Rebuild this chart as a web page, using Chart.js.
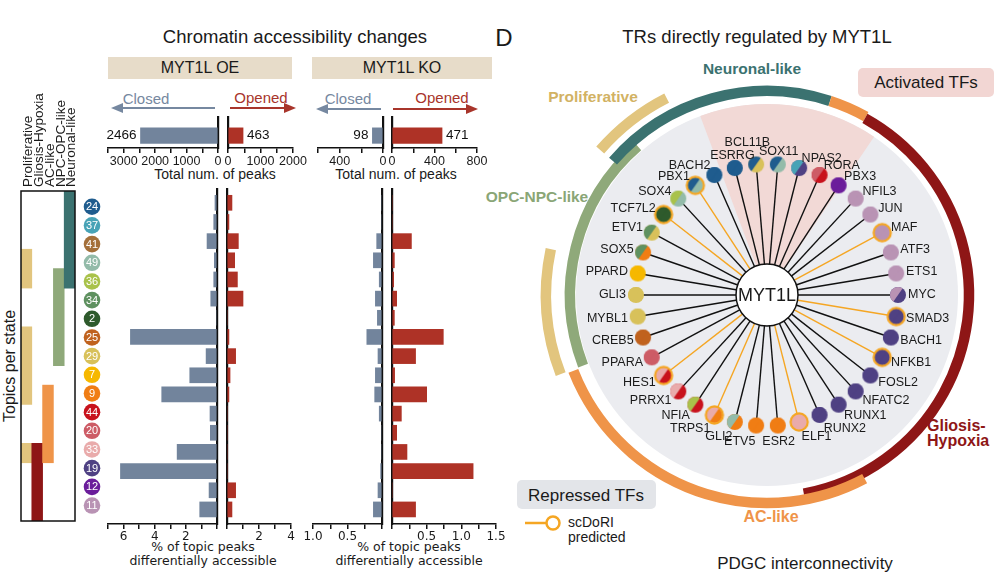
<!DOCTYPE html>
<html>
<head>
<meta charset="utf-8">
<title>MYT1L chromatin accessibility</title>
<script src="https://cdn.jsdelivr.net/npm/chart.js@4.4.1/dist/chart.umd.min.js"></script>
<style>
  body { margin:0; width:1000px; height:576px; position:relative; overflow:hidden; background:#fff;
         font-family:"Liberation Sans", Arial, sans-serif; color:#1a1a1a; }
  canvas { position:absolute; }
  .t { position:absolute; white-space:nowrap; transform:translate(-50%,-50%); line-height:1; }
  .l { position:absolute; white-space:nowrap; transform:translateY(-50%); line-height:1; }
  .rot { position:absolute; white-space:nowrap; transform-origin:0 0; transform:rotate(-90deg); }
  .box { position:absolute; }
  .dv { font-family:"DejaVu Sans", sans-serif; font-size:12.5px; }
  .st { font-weight:bold; font-size:15.5px; }
</style>
</head>
<body>

<!-- left panel headers -->
<div class="t" style="left:295px;top:37px;font-size:18.5px">Chromatin accessibility changes</div>
<div class="box" style="left:108px;top:57px;width:184px;height:22px;background:#e7dcc9"></div>
<div class="box" style="left:312px;top:57px;width:180px;height:22px;background:#e7dcc9"></div>
<div class="t" style="left:200px;top:68px;font-size:16px">MYT1L OE</div>
<div class="t" style="left:402px;top:68px;font-size:16px">MYT1L KO</div>
<div class="t" style="left:146px;top:98px;font-size:15px;color:#7688a0">Closed</div>
<div class="t" style="left:261px;top:97px;font-size:15px;color:#a8352b">Opened</div>
<div class="t" style="left:348px;top:98px;font-size:15px;color:#7688a0">Closed</div>
<div class="t" style="left:442px;top:97px;font-size:15px;color:#a8352b">Opened</div>
<svg width="1000" height="576" style="position:absolute;left:0;top:0">
  <g stroke-width="2">
    <line x1="215" y1="108" x2="120" y2="108" stroke="#7688a0"/>
    <polygon points="111,108 123,103 123,113" fill="#7688a0"/>
    <line x1="230" y1="108" x2="287" y2="108" stroke="#a8352b"/>
    <polygon points="296,108 284,103 284,113" fill="#a8352b"/>
    <line x1="381" y1="109" x2="325" y2="109" stroke="#7688a0"/>
    <polygon points="316,109 328,104 328,114" fill="#7688a0"/>
    <line x1="393" y1="109" x2="469" y2="109" stroke="#a8352b"/>
    <polygon points="478,109 466,104 466,114" fill="#a8352b"/>
  </g>
</svg>
<div class="t" style="left:215px;top:174px;font-size:14px">Total num. of peaks</div>
<div class="t" style="left:396px;top:174px;font-size:14px">Total num. of peaks</div>
<div class="t dv" style="left:203px;top:547px">% of topic peaks</div>
<div class="t dv" style="left:203px;top:561px">differentially accessible</div>
<div class="t dv" style="left:409px;top:547px">% of topic peaks</div>
<div class="t dv" style="left:409px;top:561px">differentially accessible</div>
<div class="rot" style="left:2px;top:422px;font-size:16px;line-height:16px">Topics per state</div>

<!-- right panel headers -->
<div class="t" style="left:504px;top:38px;font-size:24px">D</div>
<div class="t" style="left:757px;top:37px;font-size:18.5px">TRs directly regulated by MYT1L</div>
<div class="box" style="left:858px;top:68px;width:136px;height:29px;background:#f2d6d3;border-radius:5px"></div>
<div class="t" style="left:926px;top:82px;font-size:17px">Activated TFs</div>
<div class="box" style="left:517px;top:480px;width:139px;height:29px;background:#e3e5e9;border-radius:5px"></div>
<div class="t" style="left:586px;top:495px;font-size:17px">Repressed TFs</div>
<svg width="80" height="30" style="position:absolute;left:520px;top:508px">
  <line x1="5" y1="15" x2="27" y2="15" stroke="#f5a623" stroke-width="2.5"/>
  <circle cx="33" cy="15" r="6.5" fill="#fff" stroke="#f5a623" stroke-width="2.5"/>
</svg>
<div class="l" style="left:568px;top:522px;font-size:14px">scDoRI</div>
<div class="l" style="left:568px;top:537px;font-size:14px">predicted</div>
<div class="t st" style="left:752px;top:69px;color:#3b7270">Neuronal-like</div>
<div class="t st" style="left:593px;top:97px;color:#d2b263">Proliferative</div>
<div class="t st" style="left:537px;top:197px;color:#8aa676">OPC-NPC-like</div>
<div class="l st" style="left:927px;top:426px;color:#8e1616;font-size:16px">Gliosis-</div>
<div class="l st" style="left:927px;top:441px;color:#8e1616;font-size:16px">Hypoxia</div>
<div class="t st" style="left:771px;top:517px;color:#ef9449;font-size:16px">AC-like</div>
<div class="t" style="left:805px;top:563px;font-size:17px">PDGC interconnectivity</div>

<script>
// ---- data ----
const topics = ['24','37','41','49','36','34','2','25','29','7','9','44','20','33','19','12','11'];
const topicColors = ['#1f5c8e','#48a3b6','#a4703a','#93bba9','#a9c24a','#5f9160','#2e5a2c','#c0621e',
                     '#d8c15a','#f6b800','#f07d14','#c8121c','#cd5c66','#e9abab','#4f4183','#6b1d9b','#b993b4'];
const oeClosed = [0.13,0.21,0.64,0.17,0.21,0.40,0,5.56,0.70,1.75,3.55,0.45,0.43,2.56,6.20,0.51,1.11];
const oeOpened = [0.31,0.12,0.71,0.48,0.65,1.00,0,0.12,0.54,0.19,0.12,0,0,0,0,0.54,0.31];
const koClosed = [0,0,0.077,0.125,0.04,0.096,0.067,0.22,0.058,0.096,0.106,0.04,0,0,0.02,0.058,0.125];
const koOpened = [0,0,0.28,0.034,0.024,0.067,0.034,0.74,0.34,0.038,0.50,0.135,0.067,0.216,1.17,0,0.34];
const totalOE = [2466, 463];   // closed, opened
const totalKO = [98, 471];

const states = ['Proliferative','Gliosis-Hypoxia','AC-like','NPC-OPC-like','Neuronal-like'];
const stateColors = ['#e2c57e','#8e1616','#ef9449','#8fa97a','#3b7270'];
// topic rows (start,end) covered by each state, in row units from the top
const stateRows1 = [[3,5],[13,17],[10,14],[4,9],[0,5]];
const stateRows2 = [[7,11],null,null,null,null];
const stateRows3 = [[13,14],null,null,null,null];

const tfNames = ['MYC','SMAD3','BACH1','NFKB1','FOSL2','NFATC2','RUNX1','RUNX2','ELF1','ESR2','ETV5','GLI2',
  'TRPS1','NFIA','PRRX1','HES1','PPARA','CREB5','MYBL1','GLI3','PPARD','SOX5','ETV1','TCF7L2','SOX4','PBX1',
  'BACH2','ESRRG','BCL11B','SOX11','NPAS2','RORA','PBX3','NFIL3','JUN','MAF','ATF3','ETS1'];
const tfTopicA = ['11','19','19','19','19','19','19','19','33','9','9','49','33','36','33','33','20','25','29','29',
  '7','34','34','2','36','24','24','24','24','24','37','20','12','11','11','11','11','11'];
const tfTopicB = ['19','19','19','19','19','19','19','19','33','9','9','9','9','44','44','44','20','25','29','29',
  '7','9','29','2','49','49','24','24','29','49','19','44','12','11','11','11','11','11'];
const scdoriTFs = ['SMAD3','NFKB1','ELF1','TRPS1','HES1','TCF7L2','PBX1','MAF'];
const activatedTFs = ['ESRRG','BCL11B','SOX11','NPAS2','RORA','PBX3'];

// ---- helpers ----
const SANS = '"Liberation Sans", Arial, sans-serif';
const DEJA = '"DejaVu Sans", sans-serif';
const SLATE = '#72849c', RED = '#ae3226';

function mkCanvas(l, t, w, h) {
  const c = document.createElement('canvas');
  c.width = w; c.height = h;
  c.style.left = l + 'px'; c.style.top = t + 'px';
  document.body.appendChild(c);
  return c;
}

function hbar(area, vals, color, cfg) {
  const pad = 18, axisH = 20;
  const w = area.r - area.l + 2 * pad, h = area.b - area.t + 4 + axisH;
  const c = mkCanvas(area.l - pad, area.t - 4, w, h);
  return new Chart(c, {
    type: 'bar',
    data: { datasets: [{ data: vals.map((v, i) => ({ x: v, y: i })), backgroundColor: color,
                         barThickness: cfg.thick, borderWidth: 0 }] },
    options: {
      indexAxis: 'y', responsive: false, animation: false, events: [],
      layout: { padding: { left: pad, right: pad, top: 4, bottom: 0 } },
      plugins: { legend: { display: false }, tooltip: { enabled: false } },
      scales: {
        x: { type: 'linear', min: 0, max: cfg.max, reverse: cfg.reverse,
             afterFit: s => { s.height = axisH; },
             border: { color: '#111', width: 1.5 },
             grid: { drawOnChartArea: false, color: '#111', lineWidth: 1.5, tickLength: 5 },
             ticks: { stepSize: cfg.step, autoSkip: false, maxRotation: 0, padding: 1, color: '#1a1a1a',
                      font: cfg.font, callback: cfg.label } },
        y: { type: 'linear', min: cfg.yMin, max: cfg.yMax, reverse: true, offset: false,
             position: cfg.reverse ? 'right' : 'left',
             afterFit: s => { s.width = 0; },
             grid: { display: false }, ticks: { display: false },
             border: { color: '#111', width: 2.2 } }
      }
    },
    plugins: cfg.plugins || []
  });
}

const valueLabels = {
  id: 'vals',
  afterDatasetsDraw(chart) {
    const ctx = chart.ctx, bar = chart.getDatasetMeta(0).data[0];
    const v = chart.data.datasets[0].data[0].x, rev = chart.options.scales.x.reverse;
    ctx.save();
    ctx.font = '13.5px ' + SANS; ctx.fillStyle = '#111'; ctx.textBaseline = 'middle';
    ctx.textAlign = rev ? 'right' : 'left';
    ctx.fillText(String(v), bar.x + (rev ? -4 : 4), bar.y);
    ctx.restore();
  }
};

// ---- totals (top row) ----
const totFont = { family: SANS, size: 12.5 };
const totBase = { yMin: -1.2, yMax: 0.8, thick: 15.5, font: totFont, plugins: [valueLabels] };
hbar({ l: 108, t: 117, r: 218, b: 148 }, [totalOE[0]], SLATE,
  Object.assign({ max: 3500, step: 500, reverse: true, label: v => v % 1000 === 0 ? String(v) : '' }, totBase));
hbar({ l: 228, t: 117, r: 293, b: 148 }, [totalOE[1]], RED,
  Object.assign({ max: 2000, step: 500, reverse: false, label: v => v % 1000 === 0 ? String(v) : '' }, totBase));
hbar({ l: 318, t: 117, r: 383, b: 148 }, [totalKO[0]], SLATE,
  Object.assign({ max: 600, step: 200, reverse: true, label: v => v % 400 === 0 ? String(v) : '' }, totBase));
hbar({ l: 392, t: 117, r: 477, b: 148 }, [totalKO[1]], RED,
  Object.assign({ max: 800, step: 200, reverse: false, label: v => v % 400 === 0 ? String(v) : '' }, totBase));

// ---- per-topic bars ----
const pctFont = { family: DEJA, size: 12 };
const pctBase = { yMin: -0.72, yMax: 16.76, thick: 15, font: pctFont };
const evenLabel = v => (v > 0 && v % 2 === 0) ? String(v) : '';
hbar({ l: 108.3, t: 189, r: 217.5, b: 524 }, oeClosed, SLATE,
  Object.assign({ max: 7, step: 1, reverse: true, label: evenLabel }, pctBase));
hbar({ l: 227.3, t: 189, r: 291.3, b: 524 }, oeOpened, RED,
  Object.assign({ max: 4, step: 1, reverse: false, label: evenLabel }, pctBase));
hbar({ l: 313, t: 189, r: 382.7, b: 524 }, koClosed, SLATE,
  Object.assign({ max: 1, step: 0.25, reverse: true,
                  label: v => (v > 0 && v % 0.5 === 0) ? v.toFixed(1) : '' }, pctBase));
hbar({ l: 392, t: 189, r: 496, b: 524 }, koOpened, RED,
  Object.assign({ max: 1.5, step: 0.25, reverse: false,
                  label: v => (v > 0 && v % 0.5 === 0) ? v.toFixed(1) : '' }, pctBase));

// ---- topic number dots ----
const dotLabels = {
  id: 'dotLabels',
  afterDatasetsDraw(chart) {
    const ctx = chart.ctx;
    ctx.save();
    ctx.font = '11px ' + SANS; ctx.fillStyle = '#fff'; ctx.textAlign = 'center'; ctx.textBaseline = 'middle';
    chart.getDatasetMeta(0).data.forEach((p, i) => ctx.fillText(topics[i], p.x, p.y + 0.5));
    ctx.restore();
  }
};
new Chart(mkCanvas(72, 185, 40, 343), {
  type: 'scatter',
  data: { datasets: [{ data: topics.map((t, i) => ({ x: 0, y: i })), pointRadius: 8.3, clip: false,
                       pointBackgroundColor: topicColors, pointBorderWidth: 0 }] },
  options: {
    responsive: false, animation: false, events: [],
    layout: { padding: { top: 4, bottom: 4, left: 0, right: 0 } },
    plugins: { legend: { display: false }, tooltip: { enabled: false } },
    scales: { x: { display: false, min: -1, max: 1 },
              y: { display: false, min: -0.72, max: 16.76, reverse: true } }
  },
  plugins: [dotLabels]
});

// ---- topics per state grid ----
const frame = {
  id: 'frame',
  afterDraw(chart) {
    const a = chart.chartArea, ctx = chart.ctx;
    ctx.save(); ctx.strokeStyle = '#111'; ctx.lineWidth = 1.5;
    ctx.strokeRect(a.left, a.top, a.right - a.left, a.bottom - a.top);
    ctx.restore();
  }
};
new Chart(mkCanvas(19.7, 190, 56, 332.7), {
  type: 'bar',
  data: { labels: states,
          datasets: [stateRows1, stateRows2, stateRows3].map(d => ({
            data: d, backgroundColor: stateColors, grouped: false,
            barPercentage: 1, categoryPercentage: 1, borderWidth: 0 })) },
  options: {
    responsive: false, animation: false, events: [],
    layout: { padding: 1 },
    plugins: { legend: { display: false }, tooltip: { enabled: false } },
    scales: { x: { display: false }, y: { display: false, min: 0, max: 17, reverse: true } }
  },
  plugins: [frame]
});
// rotated state names above the grid
const colX = [27, 38, 49, 60, 70];
states.forEach((s, i) => {
  const d = document.createElement('div');
  d.className = 'rot';
  d.textContent = s;
  d.style.fontSize = '13.5px'; d.style.lineHeight = '11px';
  d.style.left = (colX[i] - 5.5) + 'px'; d.style.top = '187px';
  document.body.appendChild(d);
});

// ---- TF network (radar scale places the nodes) ----
const colorOf = t => topicColors[topics.indexOf(t)];
function nodeImage(cA, cB, ring) {
  const c = document.createElement('canvas');
  c.width = 22; c.height = 22;
  const g = c.getContext('2d');
  g.save();
  g.beginPath(); g.arc(11, 11, 8, 0, 2 * Math.PI); g.clip();
  g.fillStyle = cB; g.fillRect(0, 0, 22, 22);
  g.translate(11, 11); g.rotate(-55 * Math.PI / 180);
  g.fillStyle = cA; g.fillRect(-12, -12, 24, 12);
  g.restore();
  if (ring) {
    g.strokeStyle = '#f5a623'; g.lineWidth = 2.2;
    g.beginPath(); g.arc(11, 11, 8.6, 0, 2 * Math.PI); g.stroke();
  }
  return c;
}
const nodeImgs = tfNames.map((n, i) => nodeImage(colorOf(tfTopicA[i]), colorOf(tfTopicB[i]), scdoriTFs.includes(n)));

const DEG = Math.PI / 180;
const stateArcs = [
  { color: '#e2c57e', r: 221, from: 221, to: 243 },
  { color: '#e2c57e', r: 221, from: 159, to: 192 },
  { color: '#8fa97a', r: 197, from: 159, to: 229 },
  { color: '#3b7270', r: 204, from: 221, to: 288 },
  { color: '#ef9449', r: 204, from: 288, to: 299 },
  { color: '#8e1616', r: 202, from: 299, to: 439.5 },
  { color: '#ef9449', r: 208, from: 62, to: 158.6 }
];
const netPlugin = {
  id: 'net',
  beforeDatasetsDraw(chart) {
    const s = chart.scales.r, ctx = chart.ctx, cx = s.xCenter, cy = s.yCenter;
    const step = 2 * Math.PI / tfNames.length;
    const ang = i => s.getIndexAngle(i) - Math.PI / 2;
    ctx.save();
    ctx.fillStyle = '#ebecf0';
    ctx.beginPath(); ctx.arc(cx, cy, 191, 0, 2 * Math.PI); ctx.fill();
    const a0 = ang(tfNames.indexOf(activatedTFs[0])) - 0.66 * step;
    const a1 = ang(tfNames.indexOf(activatedTFs[activatedTFs.length - 1])) + 0.1 * step;
    ctx.fillStyle = '#f2d9d6';
    ctx.beginPath(); ctx.moveTo(cx, cy); ctx.arc(cx, cy, 191, a0, a1); ctx.closePath(); ctx.fill();
    stateArcs.forEach(a => {
      ctx.strokeStyle = a.color; ctx.lineWidth = 10.5; ctx.lineCap = 'butt';
      ctx.beginPath(); ctx.arc(cx, cy, a.r, a.from * DEG, a.to * DEG); ctx.stroke();
    });
    tfNames.forEach((n, i) => {
      const p = s.getPointPositionForValue(i, 1), a = ang(i);
      ctx.strokeStyle = scdoriTFs.includes(n) ? '#f5a623' : '#111';
      ctx.lineWidth = 1.4;
      ctx.beginPath(); ctx.moveTo(cx + 30 * Math.cos(a), cy + 30 * Math.sin(a)); ctx.lineTo(p.x, p.y); ctx.stroke();
    });
    ctx.fillStyle = '#fff'; ctx.strokeStyle = '#111'; ctx.lineWidth = 1.5;
    ctx.beginPath(); ctx.arc(cx, cy, 31, 0, 2 * Math.PI); ctx.fill(); ctx.stroke();
    ctx.restore();
  },
  afterDatasetsDraw(chart) {
    const s = chart.scales.r, ctx = chart.ctx;
    ctx.save();
    ctx.font = '12.5px ' + SANS; ctx.fillStyle = '#1a1a1a'; ctx.textBaseline = 'middle';
    tfNames.forEach((n, i) => {
      const a = s.getIndexAngle(i) - Math.PI / 2, p = s.getPointPositionForValue(i, 1);
      const c = Math.cos(a), sn = Math.sin(a);
      let x = p.x + 10 * c, y = p.y + 10 * sn;
      if (sn > 0) y += 6 * Math.pow(sn, 4);
      if (c > 0.2) ctx.textAlign = 'left';
      else if (c < (sn > 0 ? -0.05 : -0.3)) ctx.textAlign = 'right';
      else {
        ctx.textAlign = 'center';
        if (sn < 0) {
          y -= 3;
          // the label just left of the top is lifted so it clears its neighbour
          if (c < 0 && c > -0.15) { y -= 9; x -= 8; }
        }
      }
      ctx.fillText(n, x, y);
    });
    ctx.font = '18px ' + SANS; ctx.textAlign = 'center';
    ctx.fillText('MYT1L', s.xCenter, s.yCenter + 1);
    ctx.restore();
  }
};
new Chart(mkCanvas(500, 45, 500, 531), {
  type: 'radar',
  data: { labels: tfNames,
          datasets: [{ data: tfNames.map(() => 1), pointStyle: nodeImgs, pointRadius: 9,
                       borderWidth: 0, backgroundColor: 'rgba(0,0,0,0)', fill: false, clip: false }] },
  options: {
    responsive: false, animation: false, events: [],
    layout: { padding: { left: 136.5, right: 101.5, top: 119, bottom: 150 } },
    plugins: { legend: { display: false }, tooltip: { enabled: false } },
    scales: { r: { min: 0, max: 1, startAngle: 90,
                   grid: { display: false }, angleLines: { display: false },
                   ticks: { display: false }, pointLabels: { display: false } } }
  },
  plugins: [netPlugin]
});
</script>
</body>
</html>
